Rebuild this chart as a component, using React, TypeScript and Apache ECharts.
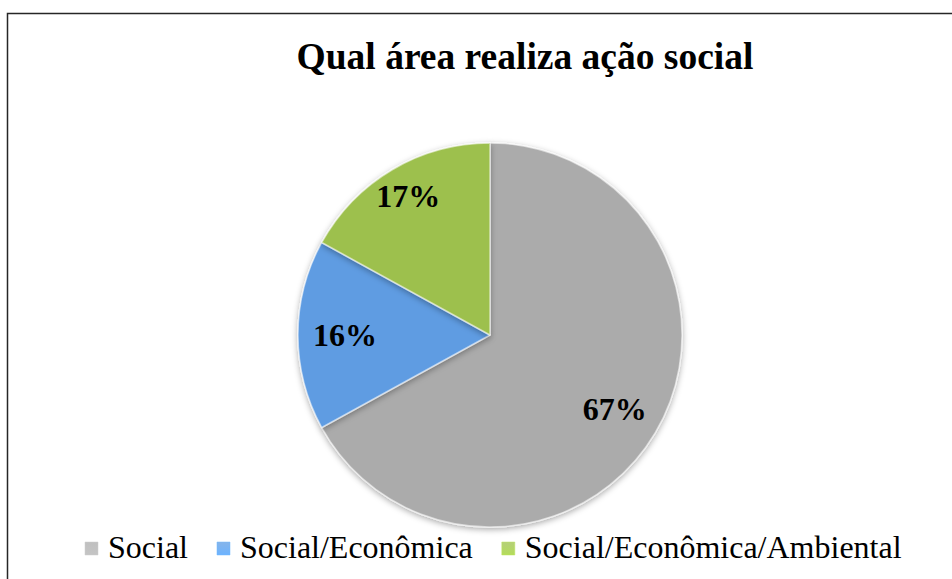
import React, { useEffect, useRef } from "react";
import * as echarts from "echarts";

const titleText = "Qual área realiza ação social";
const categories = ["Social", "Social/Econômica", "Social/Econômica/Ambiental"];
const values = [67, 16, 17];
const colors = ["#ABABAB", "#5E9CE2", "#9DC04E"];

const FONT = "Liberation Serif";

function measure(text: string): number {
  const r = echarts.format.getTextRect
    ? (echarts as any).format.getTextRect(text, `32px ${FONT}`)
    : null;
  if (r && r.width) return r.width;
  const c = document.createElement("canvas").getContext("2d");
  if (!c) return text.length * 14;
  c.font = `32px "${FONT}"`;
  return c.measureText(text).width;
}

export default function App() {
  const ref = useRef<HTMLDivElement>(null);
  useEffect(() => {
    if (!ref.current) return;
    const chart = echarts.init(ref.current, null, { renderer: "svg" });
    const data = categories.map((name, i) => ({
      name,
      value: values[i],
      itemStyle: { color: colors[i] },
    }));

    const legendY = 548;
    const legendEls: any[] = [];
    let x = 85;
    categories.forEach((name, i) => {
      legendEls.push({
        type: "rect",
        shape: { x, y: legendY - 6, width: 13, height: 13 },
        style: {
          fill: new echarts.graphic.LinearGradient(0, 0, 0, 1, [
            { offset: 0, color: echarts.color.lift(colors[i], 0.25) },
            { offset: 1, color: echarts.color.lift(colors[i], -0.15) },
          ]),
          stroke: echarts.color.lift(colors[i], -0.2),
          lineWidth: 0.5,
        },
        silent: true,
      });
      const tx = x + 23;
      legendEls.push({
        type: "text",
        x: tx,
        y: legendY - 17,
        style: {
          text: name,
          fontFamily: FONT,
          fontSize: 32,
          fill: "#000",
        },
        silent: true,
      });
      x = tx + measure(name) + 29;
    });

    chart.setOption({
      animation: false,
      backgroundColor: "#ffffff",
      title: {
        text: titleText,
        left: 520,
        textAlign: "center",
        top: 32,
        textStyle: {
          fontFamily: FONT,
          fontWeight: "bold",
          fontSize: 37.5,
          color: "#000",
        },
      },
      graphic: [
        {
          type: "rect",
          shape: { x: 7.5, y: 13.5, width: 960, height: 600 },
          style: { fill: "none", stroke: "#262626", lineWidth: 1.5 },
          silent: true,
          z: -1,
        },
        ...legendEls,
      ],
      series: [
        {
          type: "pie",
          center: [490, 335],
          radius: [0, 192],
          startAngle: 90,
          clockwise: true,
          data,
          label: { show: false },
          labelLine: { show: false },
          itemStyle: {
            borderColor: "rgba(255,255,255,0.55)",
            borderWidth: 1.5,
            shadowBlur: 6,
            shadowColor: "rgba(0,0,0,0.35)",
            shadowOffsetY: 2,
          },
          emphasis: { disabled: true },
        },
        {
          type: "pie",
          center: [490, 335],
          radius: [92, 192],
          startAngle: 90,
          clockwise: true,
          silent: true,
          z: 3,
          data: categories.map((name, i) => ({
            name,
            value: values[i],
            label: i === 2 ? { offset: [-8, -14] } : undefined,
          })),
          itemStyle: { color: "rgba(0,0,0,0)", borderWidth: 0 },
          label: {
            show: true,
            position: "inside",
            formatter: (p: any) => Math.round(p.percent) + "%",
            fontFamily: FONT,
            fontWeight: "bold",
            fontSize: 32,
            color: "#000",
          },
          labelLine: { show: false },
          emphasis: { disabled: true },
        },
      ],
    });
    return () => chart.dispose();
  }, []);
  return (
    <div
      ref={ref}
      style={{ position: "absolute", left: 0, top: 0, width: 952, height: 579 }}
    />
  );
}
